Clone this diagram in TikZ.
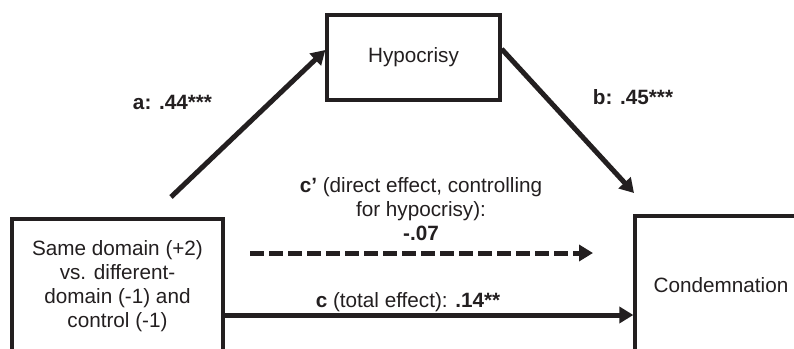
\documentclass[tikz,border=0pt]{standalone}
\usepackage{fontspec}
\setmainfont{Liberation Sans}
\usetikzlibrary{arrows.meta}
\definecolor{ink}{RGB}{35,31,32}
\begin{document}
\begin{tikzpicture}[x=1pt,y=-1pt,
  every node/.style={font=\fontsize{20.7}{24}\selectfont, text=ink},
  boxnode/.style={draw=ink, line width=3.3pt, inner sep=0pt, align=center},
  arr/.style={draw=ink, line width=5pt, -{Triangle[length=14pt,width=16pt]}},
  dasharr/.style={arr, dash pattern=on 14pt off 5pt},
  lbl/.style={inner sep=0pt, align=center}]
\clip (0,0) rectangle (794,348);
\fill[white] (0,0) rectangle (794,348);
\node[boxnode, minimum width=173pt, minimum height=85pt] (hyp) at (413.5,57.5) {Hypocrisy};
\node[boxnode, minimum width=211pt, minimum height=134pt] (iv) at (117.5,286)
  {Same domain (+2)\\vs. different-\\domain (-1) and\\control (-1)};
\node[boxnode, minimum width=172pt, minimum height=138pt] (dv) at (721,285) {Condemnation};
\coordinate (astart) at (171,197);
\coordinate (bend) at (634,193);
\coordinate (dstart) at (250,253);
\coordinate (dend) at (593,253);
\draw[arr] (astart) -- ([yshift=7.5pt]hyp.west);
\draw[arr] ([yshift=8.5pt]hyp.east) -- (bend);
\draw[dasharr] (dstart) -- (dend);
\draw[arr] ([yshift=-29pt]iv.east) -- ([yshift=-30pt]dv.west);
\node[lbl] (la) at (172.5,102) {\textbf{a: .44***}};
\node[lbl] (lb) at (633,97) {\textbf{b: .45***}};
\node[lbl] (lcp) at (421,209) {\textbf{c’} (direct effect, controlling\\for hypocrisy):\\\textbf{-.07}};
\node[lbl] (lc) at (408,302) {\textbf{c} (total effect): \textbf{.14**}};
\end{tikzpicture}
\end{document}
